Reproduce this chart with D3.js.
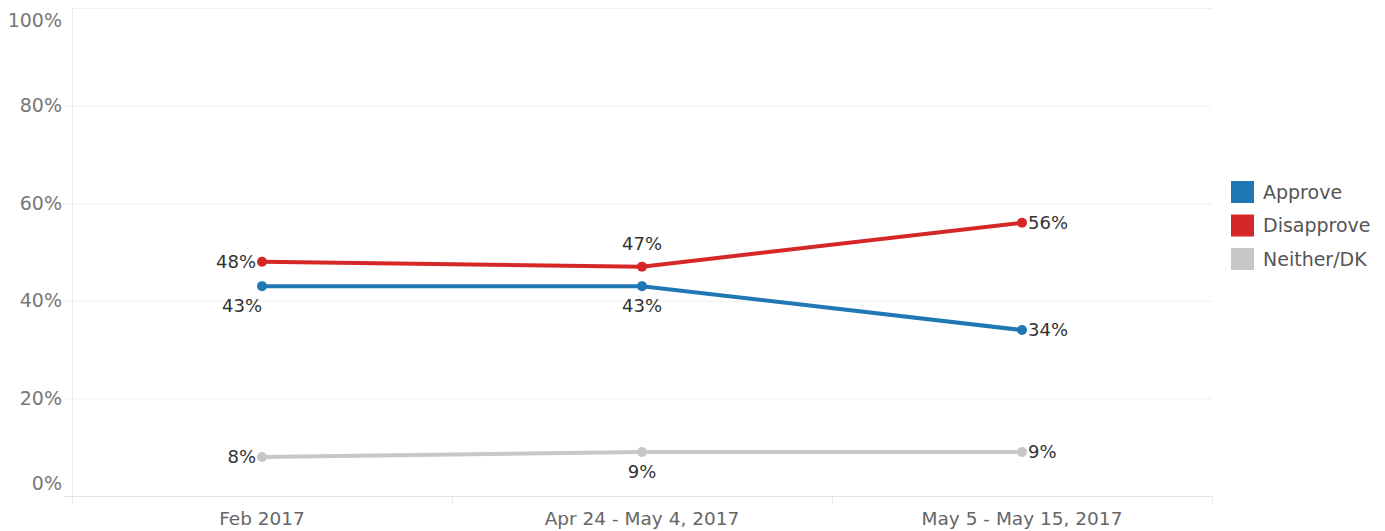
<html>
<head>
<meta charset="utf-8">
<title>Approve / Disapprove</title>
<style>
  body { margin: 0; background: #fff; font-family: "DejaVu Sans", sans-serif; }
  .ytick { fill: #777; font-size: 19px; text-anchor: end; }
  .xtick { fill: #666; font-size: 18.5px; text-anchor: middle; }
  .lbl { fill: #333; font-size: 18px; }
  .legText { fill: #555; font-size: 19px; }
</style>
</head>
<body>
<script src="https://cdn.jsdelivr.net/npm/d3@7"></script>
<script>
// data
var periods = ["Feb 2017", "Apr 24 - May 4, 2017", "May 5 - May 15, 2017"];
var seriesNames = ["Approve", "Disapprove", "Neither/DK"];
var approve = [43, 43, 34];
var disapprove = [48, 47, 56];
var neither = [8, 9, 9];
var yTicks = [0, 20, 40, 60, 80, 100];

var colors = ["#1f77b4", "#d62728", "#c7c7c7"];
// where each value label sits relative to its point
var labelPlace = [
  ["belowleft", "below", "right"],
  ["left", "above", "right"],
  ["left", "below", "right"]
];

var width = 1385, height = 531;
var svg = d3.select("body").append("svg")
  .attr("width", width).attr("height", height);

var x = d3.scaleBand().domain(periods).range([72, 1212]);
var y = d3.scaleLinear().domain([0, 100]).range([496, 8]);

// gridlines
svg.append("g").selectAll("line")
  .data(yTicks)
  .enter().append("line")
  .attr("x1", function(d){ return d == 100 ? 72 : 64; })
  .attr("x2", 1212)
  .attr("y1", function(d){ return y(d) + 0.5; })
  .attr("y2", function(d){ return y(d) + 0.5; })
  .style("stroke", function(d){ return d == 0 ? "#e3e3e3" : "#f0f0f0"; });
// y axis line
svg.append("line").attr("x1", 72.5).attr("x2", 72.5)
  .attr("y1", y(100)).attr("y2", 504).style("stroke", "#ececec");
// band separators below axis
svg.selectAll("line.sep")
  .data(periods)
  .enter().append("line")
  .attr("x1", function(d){ return x(d) + x.bandwidth() + 0.5; })
  .attr("x2", function(d){ return x(d) + x.bandwidth() + 0.5; })
  .attr("y1", y(0)).attr("y2", 504)
  .style("stroke", "#ececec");

// y tick labels
svg.selectAll("text.ytick")
  .data(yTicks)
  .enter().append("text")
  .attr("class", "ytick")
  .attr("x", 62)
  .attr("y", function(d){
    if (d == 100) return y(d) + 12;
    if (d == 0) return y(d) - 13;
    return y(d);
  })
  .attr("dy", "0.35em")
  .text(function(d){ return d + "%"; });

// x tick labels
svg.selectAll("text.xtick")
  .data(periods)
  .enter().append("text")
  .attr("class", "xtick")
  .attr("x", function(d){ return x(d) + x.bandwidth() / 2; })
  .attr("y", 525)
  .text(function(d){ return d; });

// series
var series = [approve, disapprove, neither].map(function(vals, s){
  return { name: seriesNames[s], color: colors[s],
    points: vals.map(function(v, i){ return { period: periods[i], value: v, place: labelPlace[s][i] }; }) };
});

var line = d3.line()
  .x(function(d){ return x(d.period) + x.bandwidth() / 2; })
  .y(function(d){ return y(d.value); });

// draw gray first, then blue, then red on top
var order = [2, 0, 1];
var gS = svg.selectAll("g.series")
  .data(order.map(function(i){ return series[i]; }))
  .enter().append("g").attr("class", "series");

gS.append("path")
  .attr("d", function(d){ return line(d.points); })
  .style("fill", "none")
  .style("stroke", function(d){ return d.color; })
  .style("stroke-width", 4);

gS.selectAll("circle")
  .data(function(d){ return d.points.map(function(p){ p.color = d.color; return p; }); })
  .enter().append("circle")
  .attr("cx", function(d){ return x(d.period) + x.bandwidth() / 2; })
  .attr("cy", function(d){ return y(d.value); })
  .attr("r", 5)
  .style("fill", function(d){ return d.color; });

gS.selectAll("text.lbl")
  .data(function(d){ return d.points; })
  .enter().append("text")
  .attr("class", "lbl")
  .attr("x", function(d){
    var cx = x(d.period) + x.bandwidth() / 2;
    if (d.place == "left") return cx - 6;
    if (d.place == "right") return cx + 6;
    if (d.place == "belowleft") return cx - 20;
    return cx;
  })
  .attr("y", function(d){
    var cy = y(d.value);
    if (d.place == "above") return cy - 23;
    if (d.place == "below" || d.place == "belowleft") return cy + 20;
    return cy;
  })
  .attr("dy", "0.35em")
  .style("text-anchor", function(d){
    if (d.place == "left") return "end";
    if (d.place == "right") return "start";
    return "middle";
  })
  .text(function(d){ return d.value + "%"; });

// legend
var leg = svg.selectAll("g.leg")
  .data(series)
  .enter().append("g")
  .attr("transform", function(d, i){ return "translate(1231," + (181 + i * 33.5) + ")"; });
leg.append("rect").attr("width", 23).attr("height", 22)
  .style("fill", function(d){ return d.color; });
leg.append("text").attr("class", "legText")
  .attr("x", 32).attr("y", 11).attr("dy", "0.35em")
  .text(function(d){ return d.name; });
</script>
</body>
</html>
